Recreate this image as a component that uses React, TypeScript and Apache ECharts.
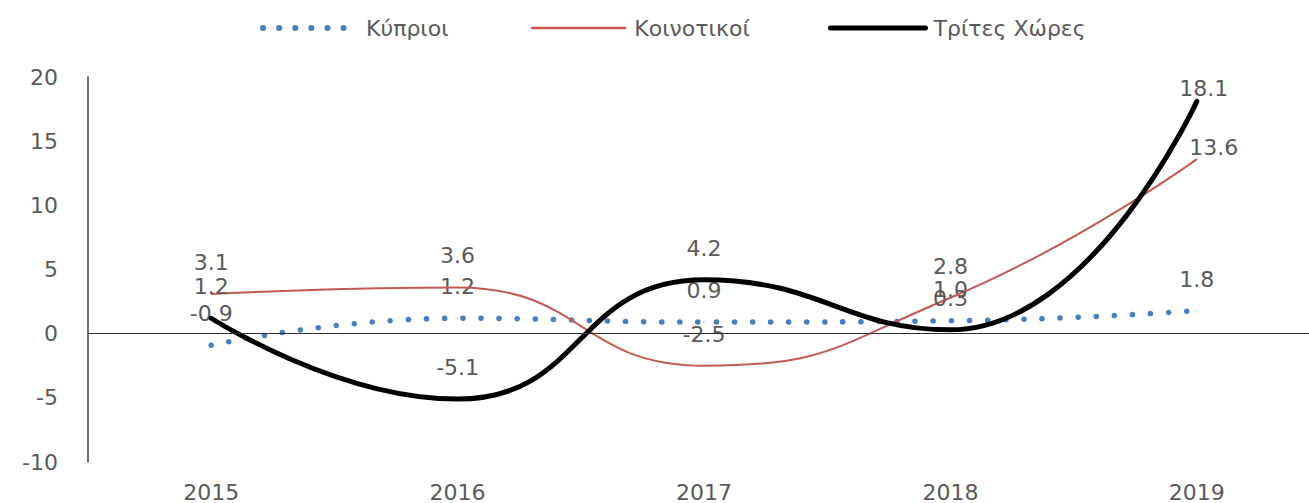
import React, { useEffect, useRef } from "react";
import * as echarts from "echarts";

const years = ["2015", "2016", "2017", "2018", "2019"];
const kyprioi = [-0.9, 1.2, 0.9, 1.0, 1.8];
const koinotikoi = [3.1, 3.6, -2.5, 2.8, 13.6];
const tritesXores = [1.2, -5.1, 4.2, 0.3, 18.1];
const yTicks = { min: -10, max: 20, interval: 5 };

const seriesNames = ["Κύπριοι", "Κοινοτικοί", "Τρίτες Χώρες"];
const seriesColors = ["#4a7ebf", "#c55a55", "#000000"];

const FONT = "DejaVu Sans";
const GREY = "#595959";

function withLabels(values: number[], lastOffset?: [number, number], lastDistance?: number) {
  return values.map((v, i) => {
    if (i === values.length - 1 && lastOffset) {
      return { value: v, label: { offset: lastOffset, distance: lastDistance } };
    }
    return { value: v };
  });
}

export default function App() {
  const ref = useRef<HTMLDivElement>(null);
  useEffect(() => {
    if (!ref.current) return;
    const chart = echarts.init(ref.current, null, { renderer: "svg" });
    const labelBase = {
      show: true,
      position: "top",
      distance: 20,
      color: GREY,
      fontSize: 22,
      fontFamily: FONT,
      formatter: (p: any) => Number(p.value).toFixed(1),
    };
    const legendLines = [
      { width: 6, type: [0.1, 16], cap: "round", color: seriesColors[0] },
      { width: 2.5, color: seriesColors[1] },
      { width: 5, color: seriesColors[2], cap: "round" },
    ];
    const legendLefts = [255, 525, 823];
    chart.setOption({
      animation: false,
      backgroundColor: "#ffffff",
      legend: seriesNames.map((name, i) => ({
        top: 12,
        left: legendLefts[i],
        itemWidth: 95,
        itemHeight: 12,
        itemStyle: { opacity: 0 },
        textStyle: { color: GREY, fontSize: 22, fontFamily: FONT, padding: [0, 0, 0, 3] },
        data: [{ name, lineStyle: legendLines[i] }],
      })),
      grid: { left: 88, top: 77, bottom: 39, right: 0, containLabel: false },
      xAxis: {
        type: "category",
        data: years,
        boundaryGap: true,
        axisLine: { show: false, onZero: false },
        axisTick: { show: false },
        axisLabel: { color: GREY, fontSize: 22, fontFamily: FONT, margin: 19 },
        splitLine: { show: false },
      },
      yAxis: {
        type: "value",
        min: yTicks.min,
        max: yTicks.max,
        interval: yTicks.interval,
        axisLine: { show: true, lineStyle: { color: "#404040", width: 1.5 } },
        axisTick: { show: false },
        splitLine: { show: false },
        axisLabel: { color: GREY, fontSize: 22, fontFamily: FONT, margin: 30 },
      },
      series: [
        {
          name: seriesNames[0],
          type: "line",
          smooth: 0.5,
          symbol: "circle",
          symbolSize: 1,
          showSymbol: true,
          data: withLabels(kyprioi),
          lineStyle: { color: seriesColors[0], width: 5.5, type: [0.1, 18], cap: "round" },
          itemStyle: { color: seriesColors[0] },
          label: labelBase,
          z: 2,
          markLine: {
            silent: true,
            symbol: "none",
            label: { show: false },
            lineStyle: { color: "#303030", width: 1, type: "solid" },
            data: [{ yAxis: 0 }],
          },
        },
        {
          name: seriesNames[1],
          type: "line",
          smooth: 0.5,
          symbol: "circle",
          symbolSize: 1,
          showSymbol: true,
          data: withLabels(koinotikoi, [17, 0], 0),
          lineStyle: { color: seriesColors[1], width: 2 },
          itemStyle: { color: seriesColors[1] },
          label: labelBase,
          z: 3,
        },
        {
          name: seriesNames[2],
          type: "line",
          smooth: 0.5,
          symbol: "circle",
          symbolSize: 1,
          showSymbol: true,
          data: withLabels(tritesXores, [7, 0], 1),
          lineStyle: { color: seriesColors[2], width: 5, cap: "round" },
          itemStyle: { color: seriesColors[2] },
          label: labelBase,
          z: 4,
        },
      ],
    });
    return () => chart.dispose();
  }, []);
  return (
    <div
      style={{ position: "absolute", left: 0, top: 0, width: 1309, height: 503, overflow: "hidden", background: "#fff" }}
    >
      <div ref={ref} style={{ width: 1320, height: 503 }} />
    </div>
  );
}
